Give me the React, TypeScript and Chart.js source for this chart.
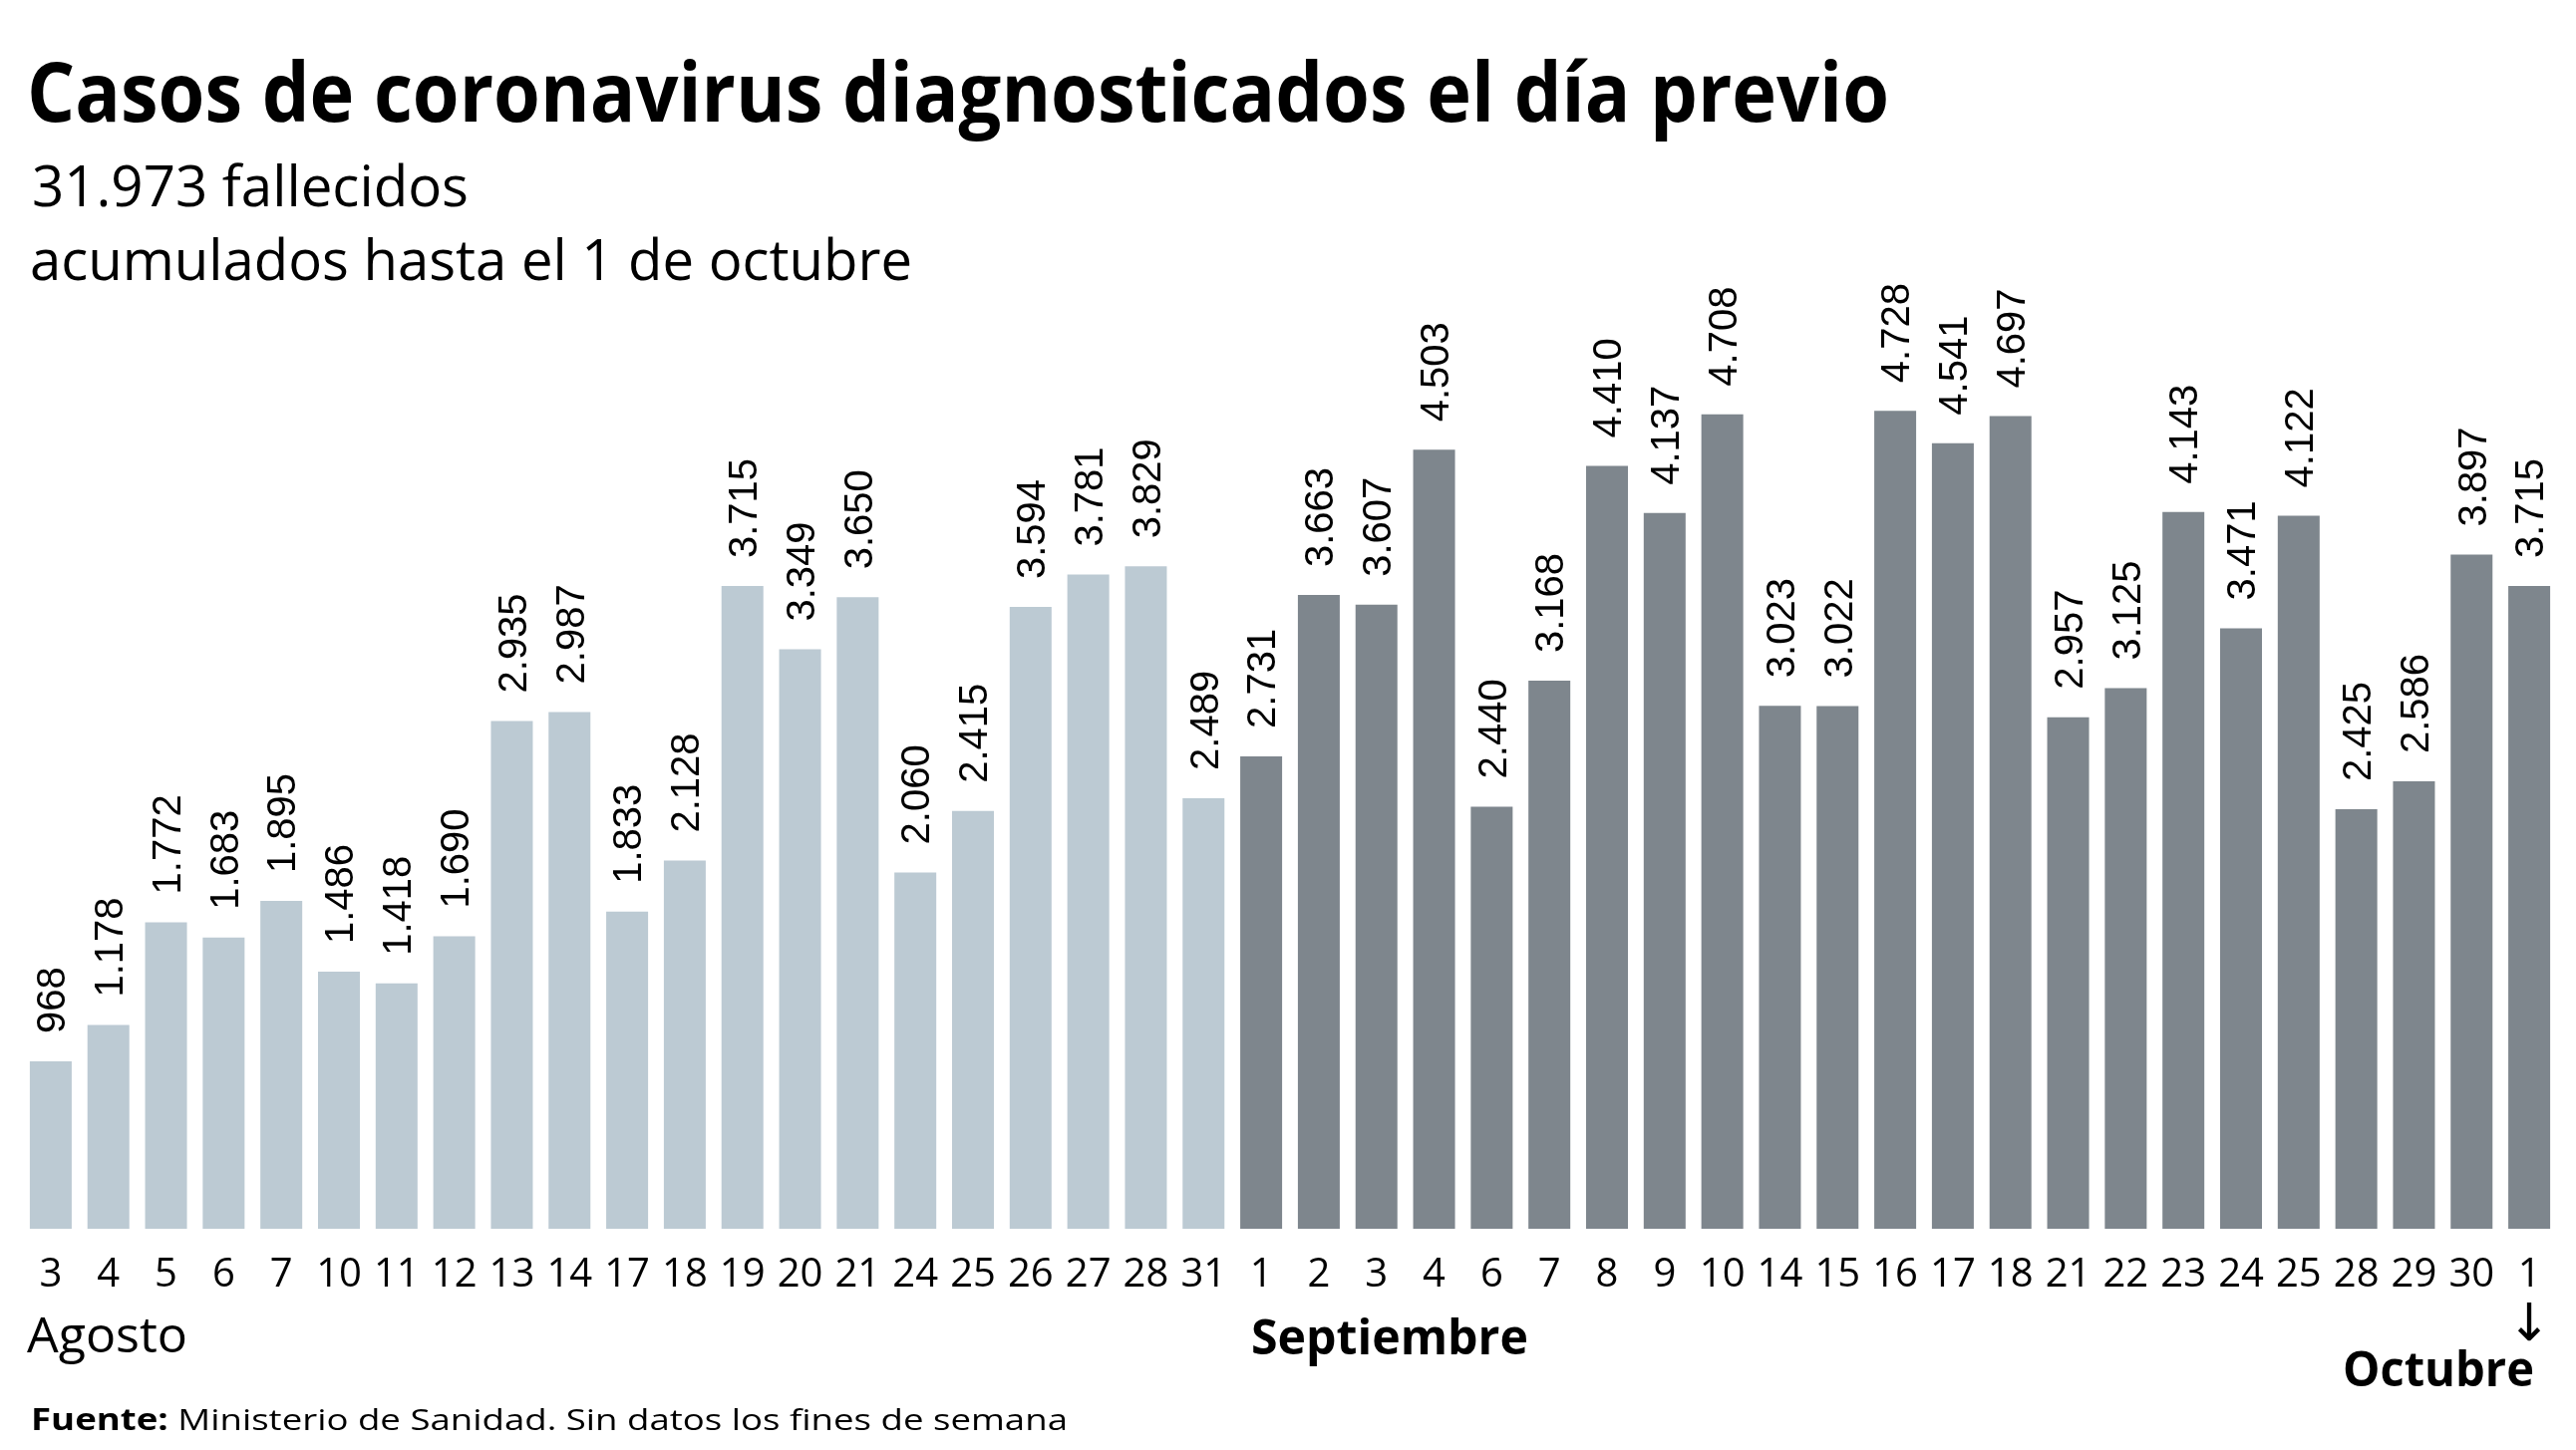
import React, { useEffect, useLayoutEffect, useRef } from "react";
import { Chart, registerables } from "chart.js";

Chart.register(...registerables);

// ---- Data ----
const augustDays = ["3", "4", "5", "6", "7", "10", "11", "12", "13", "14", "17", "18", "19", "20", "21", "24", "25", "26", "27", "28", "31"];
const augustCases = [968, 1178, 1772, 1683, 1895, 1486, 1418, 1690, 2935, 2987, 1833, 2128, 3715, 3349, 3650, 2060, 2415, 3594, 3781, 3829, 2489];
const septemberDays = ["1", "2", "3", "4", "6", "7", "8", "9", "10", "14", "15", "16", "17", "18", "21", "22", "23", "24", "25", "28", "29", "30"];
const septemberCases = [2731, 3663, 3607, 4503, 2440, 3168, 4410, 4137, 4708, 3023, 3022, 4728, 4541, 4697, 2957, 3125, 4143, 3471, 4122, 2425, 2586, 3897];
const octoberDays = ["1"];
const octoberCases = [3715];
const monthNames = ["Agosto", "Septiembre", "Octubre"];
const titleText = "Casos de coronavirus diagnosticados el día previo";
const subtitleLines = ["31.973 fallecidos", "acumulados hasta el 1 de octubre"];
const sourceLabel = "Fuente:";
const sourceText = " Ministerio de Sanidad. Sin datos los fines de semana";
const yAxisMax = 5000;

const LIGHT = "#bccad3";
const DARK = "#7e868d";

function formatNumber(v: number): string {
  const s = String(Math.round(v));
  return s.replace(/\B(?=(\d{3})+(?!\d))/g, ".");
}

type FitProps = {
  left: number;
  baseline: number;
  size: number;
  width: number;
  weight?: number | string;
  family?: string;
  children: React.ReactNode;
};

function FitText({ left, baseline, size, width, weight = 400, family = '"Open Sans", sans-serif', children }: FitProps) {
  const ref = useRef<HTMLDivElement>(null);
  useLayoutEffect(() => {
    const el = ref.current;
    if (!el) return;
    const fit = () => {
      el.style.transform = "none";
      const w = el.getBoundingClientRect().width;
      if (w > 0) el.style.transform = `scaleX(${width / w})`;
    };
    fit();
    if ((document as any).fonts && (document as any).fonts.ready) {
      (document as any).fonts.ready.then(fit);
    }
  }, [width]);
  return (
    <div
      ref={ref}
      style={{
        position: "absolute",
        left,
        top: baseline - 0.888 * size,
        fontSize: size,
        lineHeight: 1,
        fontFamily: family,
        fontWeight: weight as any,
        whiteSpace: "nowrap",
        transformOrigin: "0 0",
        color: "#000",
      }}
    >
      {children}
    </div>
  );
}

export default function App() {
  const canvasRef = useRef<HTMLCanvasElement>(null);

  useEffect(() => {
    const canvas = canvasRef.current;
    if (!canvas) return;
    const labels = [...augustDays, ...septemberDays, ...octoberDays];
    const values = [...augustCases, ...septemberCases, ...octoberCases];
    const colors = [
      ...augustDays.map(() => LIGHT),
      ...septemberDays.map(() => DARK),
      ...octoberDays.map(() => DARK),
    ];

    const valueLabels = {
      id: "valueLabels",
      afterDatasetsDraw(chart: any) {
        const ctx = chart.ctx as CanvasRenderingContext2D;
        const meta = chart.getDatasetMeta(0);
        ctx.save();
        ctx.font = '40px "Liberation Sans", Arial, sans-serif';
        ctx.fillStyle = "#000";
        ctx.textAlign = "left";
        ctx.textBaseline = "alphabetic";
        meta.data.forEach((bar: any, i: number) => {
          ctx.save();
          ctx.translate(bar.x, bar.y - 28);
          ctx.rotate(-Math.PI / 2);
          ctx.fillText(formatNumber(values[i]), 0, 14.3);
          ctx.restore();
        });
        ctx.restore();
      },
    };

    const chart = new Chart(canvas, {
      type: "bar",
      data: {
        labels,
        datasets: [
          {
            data: values,
            backgroundColor: colors,
            borderWidth: 0,
            barPercentage: 0.7265,
            categoryPercentage: 1,
          },
        ],
      },
      options: {
        animation: false,
        responsive: false,
        devicePixelRatio: 1,
        layout: { padding: { left: 22, right: 18, top: 365, bottom: 128 } },
        plugins: {
          legend: { display: false },
          tooltip: { enabled: false },
          title: { display: false },
        },
        scales: {
          x: {
            grid: { display: false, drawTicks: false },
            border: { display: false },
            ticks: {
              font: { family: '"Open Sans", sans-serif', size: 40, lineHeight: 1.2 },
              color: "#000",
              padding: 23,
              autoSkip: false,
              maxRotation: 0,
              minRotation: 0,
            },
          },
          y: { display: false, min: 0, max: yAxisMax },
        },
      },
      plugins: [valueLabels as any],
    });
    return () => chart.destroy();
  }, []);

  return (
    <div
      style={{
        position: "absolute",
        left: 0,
        top: 0,
        width: 2584,
        height: 1455,
        background: "#fff",
        overflow: "hidden",
      }}
    >
      <canvas
        ref={canvasRef}
        width={2584}
        height={1455}
        style={{ position: "absolute", left: 0, top: 0, width: 2584, height: 1455 }}
      />
      <FitText left={27} baseline={122} size={83} width={1868} weight={700}>
        {titleText}
      </FitText>
      <FitText left={32} baseline={208} size={57} width={438}>
        {subtitleLines[0]}
      </FitText>
      <FitText left={30} baseline={282} size={57} width={885}>
        {subtitleLines[1]}
      </FitText>
      <FitText left={27} baseline={1358} size={49} width={161}>
        {monthNames[0]}
      </FitText>
      <FitText left={1255} baseline={1360} size={49} width={278} weight={700}>
        {monthNames[1]}
      </FitText>
      <FitText left={2350} baseline={1392} size={49} width={192} weight={700}>
        {monthNames[2]}
      </FitText>
      <div
        style={{
          position: "absolute",
          left: 2537,
          top: 1301,
          transform: "translateX(-50%)",
          fontFamily: '"DejaVu Sans", sans-serif',
          fontSize: 52,
          lineHeight: 1,
          color: "#000",
        }}
      >
        ↓
      </div>
      <FitText left={31} baseline={1436} size={30} width={1040}>
        <span style={{ fontWeight: 700 }}>{sourceLabel}</span>
        {sourceText}
      </FitText>
    </div>
  );
}
